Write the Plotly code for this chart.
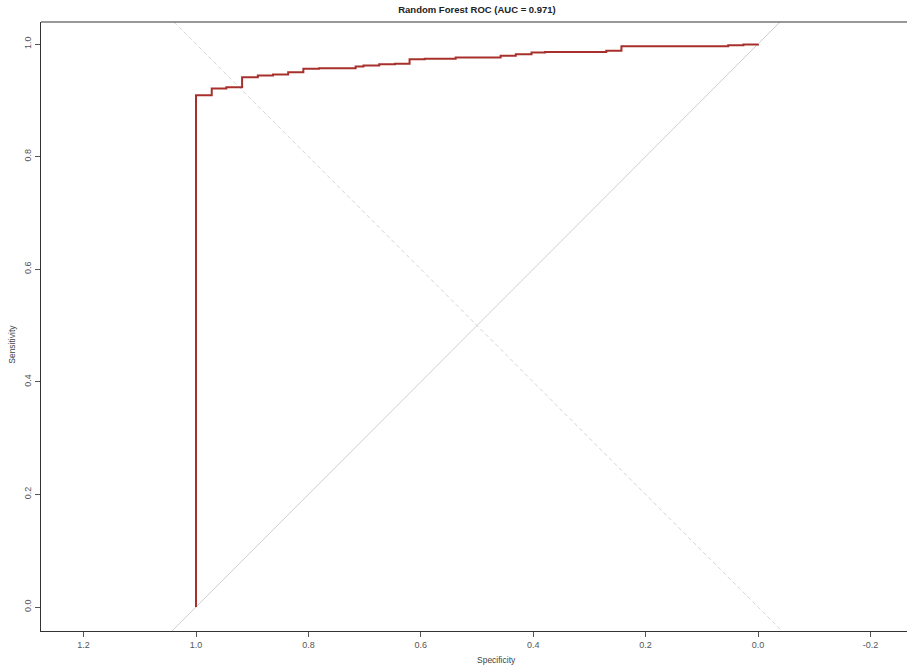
import plotly.graph_objects as go

# ROC curve step vertices (specificity, sensitivity)
specificity = [1.0, 1.0, 0.972, 0.946, 0.918, 0.890, 0.863, 0.836, 0.809, 0.781,
               0.716, 0.702, 0.674, 0.646, 0.620, 0.593, 0.538, 0.458, 0.431,
               0.403, 0.379, 0.270, 0.243, 0.053, 0.026, 0.0, 0.0]
sensitivity = [0.0, 0.909, 0.921, 0.923, 0.941, 0.944, 0.946, 0.950, 0.956, 0.957,
               0.960, 0.962, 0.964, 0.965, 0.973, 0.974, 0.976, 0.979, 0.982,
               0.985, 0.986, 0.988, 0.996, 0.998, 0.999, 0.999, 1.0]

tick_vals = [1.2, 1.0, 0.8, 0.6, 0.4, 0.2, 0.0, -0.2]
tick_text = ["1.2", "1.0", "0.8", "0.6", "0.4", "0.2", "0.0", "-0.2"]
ytick_vals = [0.0, 0.2, 0.4, 0.6, 0.8, 1.0]
ytick_text = ["0.0", "0.2", "0.4", "0.6", "0.8", "1.0"]

diag_x = [1.4, -0.4]
chance_y = [-0.4, 1.4]
ident_y = [1.4, -0.4]

title_text = "Random Forest ROC (AUC = 0.971)"
FONT = "Liberation Sans, Arial, sans-serif"

fig = go.Figure()
fig.add_trace(go.Scatter(x=diag_x, y=chance_y, mode="lines",
                         line=dict(color="#cfcfcf", width=1), hoverinfo="skip"))
fig.add_trace(go.Scatter(x=diag_x, y=ident_y, mode="lines",
                         line=dict(color="#d4d4d4", width=1, dash="4px,3px"), hoverinfo="skip"))
fig.add_trace(go.Scatter(x=specificity, y=sensitivity, mode="lines",
                         line=dict(color="#a8302c", width=2, shape="hv")))

fig.update_layout(
    width=907, height=668,
    margin=dict(l=41, r=0, t=22, b=37),
    paper_bgcolor="white", plot_bgcolor="white",
    showlegend=False,
    font=dict(family=FONT, color="#444", size=9),
    title=dict(text="<b>" + title_text + "</b>", x=477/907, xanchor="center",
               y=1 - 10/668, yanchor="middle", font=dict(size=9.5, color="#222", family=FONT)),
    xaxis=dict(range=[1.2758, -0.2651], tickvals=tick_vals, ticktext=tick_text,
               showgrid=False, zeroline=False, showline=True, linecolor="#333", linewidth=1,
               ticks="outside", ticklen=5, tickcolor="#555", tickfont=dict(size=9, color="#555")),
    yaxis=dict(range=[-0.0426, 1.0391], tickvals=ytick_vals, ticktext=ytick_text,
               showgrid=False, zeroline=False, showline=True, linecolor="#333", linewidth=1,
               ticks="outside", ticklen=5, tickcolor="#555", tickangle=-90,
               tickfont=dict(size=9, color="#555")),
    shapes=[dict(type="line", xref="paper", yref="paper", x0=0, x1=1, y0=1, y1=1,
                 line=dict(color="#333", width=1))],
    annotations=[
        dict(text="Specificity", xref="paper", yref="paper", x=477/907, y=-29/609,
             xanchor="center", yanchor="middle", showarrow=False,
             font=dict(size=8.5, color="#444")),
        dict(text="Sensitivity", xref="paper", yref="paper", x=-29/866, y=0.47,
             xanchor="center", yanchor="middle", showarrow=False, textangle=-90,
             font=dict(size=8.5, color="#444")),
    ],
)

fig.write_html("out.html")
